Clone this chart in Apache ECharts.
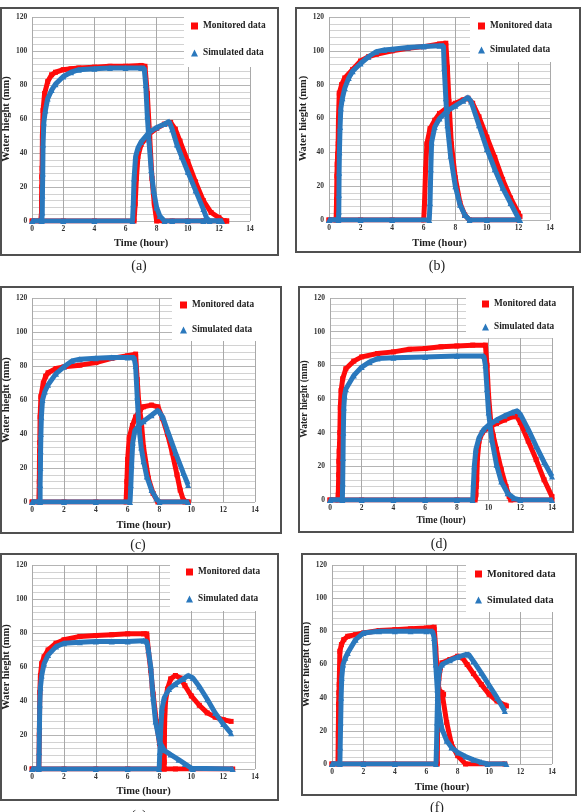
<!DOCTYPE html>
<html>
<head>
<meta charset="utf-8">
<script src="https://cdn.jsdelivr.net/npm/echarts@6/dist/echarts.min.js"></script>
<style>
  html, body { margin: 0; padding: 0; background: #fff; }
  #chart { width: 581px; height: 812px; }
</style>
</head>
<body>
<div id="chart"></div>
<script>
// data, points are [time (hour), water height (mm)]
// panel (a)
const aMon1 = [[0,0],[0.55,0],[0.6,5],[0.6,13],[0.62,20],[0.62,26],[0.64,31],[0.66,50],[0.7,65],[0.8,75],[1.0,82],[1.25,86],[1.5,87.5],[2,89],[2.5,89.5],[3,90],[4,90.5],[5,91],[6,91],[7,91.5],[7.25,91],[7.4,75],[7.55,50],[7.7,25],[7.85,10],[8.0,0],[9,0],[10,0],[11,0],[12,0],[12.5,0]];
const aMon2 = [[0,0],[2,0],[4,0],[6.55,0],[6.62,10],[6.7,25],[6.8,38],[7.0,45],[7.5,51],[8,54.5],[8.5,57],[8.9,58],[9.2,54],[9.5,47],[10,35],[10.5,23],[11,12],[11.5,5],[12,2],[12.3,0],[12.5,0]];
const aSim1 = [[0,0],[0.62,0],[0.65,5],[0.66,15],[0.68,28],[0.7,45],[0.75,58],[0.85,65],[1.0,72],[1.25,77],[1.5,80.5],[2,85],[2.5,87.5],[3,89],[4,89.5],[5,90],[6,90],[7,90],[7.2,90],[7.3,80],[7.4,62],[7.5,48],[7.65,30],[7.8,18],[8.0,8],[8.2,3],[8.5,0],[9,0],[10,0],[11,0],[12,0],[12.2,0]];
const aSim2 = [[0,0],[2,0],[4,0],[6.45,0],[6.5,10],[6.55,25],[6.65,38],[6.8,43],[7,46.5],[7.5,52],[8,55],[8.5,57],[8.8,58.5],[9.0,54],[9.3,45],[9.6,38],[10,29],[10.5,18],[11,7],[11.2,2],[11.4,0],[12.2,0]];
// panel (b)
const bMon1 = [[0,0],[0.45,0],[0.48,12],[0.5,26],[0.52,33],[0.55,39],[0.58,45],[0.6,60],[0.65,75],[0.8,80],[1.0,84],[1.5,89],[2,94],[2.5,96.5],[3,98],[4,100],[5,101.5],[6,102.5],[7,104],[7.4,104.5],[7.5,90],[7.6,70],[7.75,45],[8,25],[8.3,10],[8.6,3],[8.9,0],[10,0],[12,0]];
const bMon2 = [[0,0],[2,0],[4,0],[6.0,0],[6.05,10],[6.12,30],[6.2,45],[6.4,54],[6.7,59],[7,63],[7.5,66.5],[8,69],[8.5,71],[8.8,72],[9.1,69],[9.5,61],[10,49],[10.5,37],[11,24],[11.5,13],[12,4],[12.1,2]];
const bSim1 = [[0,0],[0.6,0],[0.62,5],[0.63,15],[0.64,28],[0.66,40],[0.7,55],[0.75,66],[0.85,72],[1.0,78],[1.25,84],[1.5,88],[2,92.5],[2.5,96.5],[3,99.5],[3.5,100.5],[4,101],[5,102],[6,102.5],[7,103],[7.25,103],[7.3,90],[7.4,72],[7.5,56],[7.7,38],[8,20],[8.3,9],[8.6,3],[8.9,0],[10,0],[12.1,0]];
const bSim2 = [[0,0],[2,0],[4,0],[6.35,0],[6.4,10],[6.45,30],[6.5,46],[6.7,55],[7,60],[7.5,64.5],[8,67.5],[8.5,70.5],[8.8,72.5],[9.0,70],[9.5,56],[10,42],[10.5,30],[11,19],[11.5,10],[12,1],[12.1,0]];
// panel (c)
const cMon1 = [[0,0],[0.42,0],[0.45,12],[0.46,25],[0.47,30],[0.48,35],[0.5,50],[0.55,62],[0.7,70],[0.85,74],[1.0,76],[1.5,78.5],[2,79.5],[3,80.5],[4,82],[5,84.5],[6,86],[6.5,87],[6.6,72],[6.7,58],[6.85,48],[7.0,32],[7.3,14],[7.6,5],[7.9,0],[9.8,0]];
const cMon2 = [[0,0],[2,0],[4,0],[5.9,0],[5.95,12],[6.0,25],[6.1,38],[6.3,45],[6.5,50],[6.8,54.5],[7,56],[7.5,57],[7.9,56],[8.2,49],[8.5,40],[8.8,29],[9.1,16],[9.3,7],[9.5,1],[9.6,0],[9.8,0]];
const cSim1 = [[0,0],[0.5,0],[0.5,10],[0.52,20],[0.53,30],[0.55,40],[0.58,50],[0.65,60],[0.8,65],[1.0,69],[1.5,75.5],[2,79.5],[2.5,83],[3,84],[4,84.5],[5,85],[6,85],[6.4,85],[6.5,80],[6.6,62],[6.7,45],[6.85,32],[7.0,24],[7.2,15],[7.5,7],[7.8,2],[8.0,0],[9.8,0]];
const cSim2 = [[0,0],[2,0],[4,0],[6.15,0],[6.2,10],[6.25,22],[6.32,35],[6.45,42],[6.7,45],[7,47.5],[7.5,51],[7.9,54],[8.2,50],[8.5,42],[9,29],[9.5,17],[9.8,10]];
// panel (d)
const dMon1 = [[0,0],[0.5,0],[0.52,3],[0.55,15],[0.56,23],[0.58,29],[0.6,33],[0.62,40],[0.65,55],[0.7,65],[0.8,72],[1.0,78],[1.5,82.5],[2,85],[3,87],[4,88],[5,89.5],[6,90],[7,91],[8,91.5],[9,92],[9.8,92],[9.9,80],[10.0,62],[10.15,45],[10.3,38],[10.5,30],[10.8,18],[11.1,8],[11.3,2],[11.4,0],[12,0],[14,0]];
const dMon2 = [[0,0],[2,0],[4,0],[6,0],[8,0],[9.15,0],[9.2,3],[9.22,8],[9.25,12],[9.3,25],[9.4,35],[9.6,40],[10,43],[10.5,45.5],[11,47.5],[11.5,49.5],[11.75,50],[12,46],[12.5,35],[13,24],[13.5,12],[14,2]];
const dSim1 = [[0,0],[0.78,0],[0.8,10],[0.82,25],[0.84,40],[0.87,55],[0.92,62],[1.0,66],[1.5,74],[2,79],[2.5,82],[3,84],[4,84.5],[6,85],[8,85.5],[9.7,85.5],[9.8,80],[9.9,66],[10.0,52],[10.2,36],[10.5,21],[10.8,11],[11.2,4],[11.6,1],[12,0],[14,0]];
const dSim2 = [[0,0],[2,0],[4,0],[6,0],[8,0],[9.0,0],[9.05,10],[9.1,20],[9.2,30],[9.4,37],[9.7,42],[10,44.5],[10.5,47.5],[11,50],[11.5,52],[11.8,53],[12,51],[12.5,42],[13,32],[13.5,22.5],[14,14]];
// panel (e)
const eMon1 = [[0,0],[0.42,0],[0.45,20],[0.48,45],[0.52,55],[0.6,62],[0.75,66],[1.0,70],[1.5,74],[2,76],[3,78],[4,78.5],[5,79],[6,79.5],[7,79.5],[7.2,79.5],[7.3,70],[7.45,58],[7.55,48],[7.6,44],[7.8,28],[8.0,15],[8.2,5],[8.3,0],[9,0],[12.6,0]];
const eMon2 = [[0,0],[2,0],[4,0],[6,0],[8.28,0],[8.3,4],[8.32,27],[8.38,40],[8.5,47],[8.7,53],[9.0,55],[9.3,53.5],[9.6,49],[10,43],[10.5,37.5],[11,33],[11.5,30.5],[12,29],[12.5,28]];
const eSim1 = [[0,0],[0.42,0],[0.44,10],[0.46,25],[0.48,38],[0.52,48],[0.6,55],[0.75,62],[1.0,67],[1.5,72],[2,74],[3,74.5],[4,75],[5,75],[6,75],[7,75.5],[7.2,75],[7.3,70],[7.45,60],[7.6,42],[7.75,28],[8.0,16],[8.3,11],[8.7,8.5],[9.2,5.5],[9.6,3],[10,0.5],[10.1,0],[12.6,0]];
const eSim2 = [[0,0],[2,0],[4,0],[6,0],[7.98,0],[8.02,10],[8.07,22],[8.15,35],[8.3,42],[8.6,47],[9,50],[9.5,53],[9.8,55],[10.1,53.5],[10.5,48.5],[11,41],[11.5,33],[12,26.5],[12.5,21]];
// panel (f)
const fMon1 = [[0,0],[0.38,0],[0.4,18],[0.42,36],[0.44,43],[0.46,48],[0.5,68],[0.6,72],[0.75,75],[1.0,77],[1.5,78],[2,79],[3,80.5],[4,81],[5,81.5],[6,82],[6.5,82.5],[6.6,70],[6.7,55],[6.8,45],[7.0,43],[7.1,42],[7.3,25],[7.6,12],[8,5],[8.5,0],[11,0]];
const fMon2 = [[0,0],[2,0],[4,0],[6.7,0],[6.72,22],[6.75,40],[6.8,52],[6.9,58],[7,61],[7.5,63],[8,65],[8.3,64],[8.6,60],[9,54.5],[9.5,48],[10,42],[10.5,38],[11,35.5],[11.1,35]];
const fSim1 = [[0,0],[0.5,0],[0.52,10],[0.55,25],[0.58,40],[0.62,52],[0.7,60],[0.85,64],[1.0,67],[1.5,75],[2,79],[3,80],[4,80],[5,80],[6,80],[6.4,80],[6.5,76],[6.6,60],[6.7,45],[6.8,32],[7,21],[7.3,14],[7.6,10],[8,7],[8.5,4.5],[9,2.5],[9.5,1],[9.9,0],[11.1,0]];
const fSim2 = [[0,0],[2,0],[4,0],[6.62,0],[6.65,10],[6.68,25],[6.72,40],[6.78,52],[6.85,57],[7,60],[7.5,62.5],[8,64.5],[8.5,66],[8.7,66],[9,62],[9.5,55],[10,47.5],[10.5,40],[11,32]];

const captions = ['(a)', '(b)', '(c)', '(d)', '(e)', '(f)'];
const monName = 'Monitored data';
const simName = 'Simulated data';
const xName = 'Time (hour)';
const yName = 'Water hieght (mm)';
const xMin = 0, xMax = 14, xStep = 2;
const yMin = 0, yMax = 120, yStep = 20;

const monitored = [[aMon1, aMon2], [bMon1, bMon2], [cMon1, cMon2], [dMon1, dMon2], [eMon1, eMon2], [fMon1, fMon2]];
const simulated = [[aSim1, aSim2], [bSim1, bSim2], [cSim1, cSim2], [dSim1, dSim2], [eSim1, eSim2], [fSim1, fSim2]];

// page layout of the six panels (pixels)
const layout = [
  { grid: [26, 17, 224, 204],  frame: [1, 8, 277, 247],   cover: [184, 14, 92, 53],  legend: [191, 20, 15, 9.4], cap: [139, 266], xGap: 17, yGap: 10, nameSize: 10.5 },
  { grid: [329, 17, 221, 203], frame: [296, 8, 284, 244], cover: [470, 14, 108, 48], legend: [478, 20, 12, 9.3], cap: [437, 266], xGap: 18, yGap: 16, nameSize: 10.5 },
  { grid: [32, 298, 223, 204], frame: [1, 287, 280, 246], cover: [172, 295, 107, 46], legend: [180, 299, 13, 9.3], cap: [138, 545], xGap: 18, yGap: 17, nameSize: 10.5 },
  { grid: [330, 298, 222, 202], frame: [299, 287, 274, 245], cover: [466, 295, 105, 43], legend: [482, 298, 11, 9.3], cap: [439, 544], xGap: 16, yGap: 15, nameSize: 9.5 },
  { grid: [32, 565, 223, 204], frame: [1, 554, 277, 246], cover: [170, 562, 106, 49], legend: [186, 566, 15, 9.3], cap: [139, 816], xGap: 17, yGap: 17, nameSize: 10.5 },
  { grid: [332, 565, 220, 199], frame: [302, 554, 274, 241], cover: [466, 562, 108, 50], legend: [475, 568, 14, 10.3], cap: [437, 808], xGap: 18, yGap: 19, nameSize: 10.5 }
];

const RED = '#ff0a0a';
const BLUE = '#2a78bd';
const SERIF = 'Liberation Serif';

const chart = echarts.init(document.getElementById('chart'));

const grids = [], xAxes = [], yAxes = [], series = [], legends = [], graphics = [];

layout.forEach((p, i) => {
  grids.push({ left: p.grid[0], top: p.grid[1], width: p.grid[2], height: p.grid[3], containLabel: false });

  xAxes.push({
    type: 'value', gridIndex: i, min: xMin, max: xMax, interval: xStep,
    name: xName, nameLocation: 'middle', nameGap: p.xGap,
    nameTextStyle: { fontFamily: SERIF, fontWeight: 'bold', fontSize: p.nameSize, color: '#222' },
    axisLine: { show: false }, axisTick: { show: false },
    axisLabel: { fontFamily: SERIF, fontWeight: 'bold', fontSize: 7.5, color: '#333', margin: 4 },
    splitLine: { show: true, lineStyle: { color: '#a9a9a9', width: 1 } }
  });

  yAxes.push({
    type: 'value', gridIndex: i, min: yMin, max: yMax, interval: yStep,
    name: yName, nameLocation: 'middle', nameGap: p.yGap, nameRotate: 90,
    nameTextStyle: { fontFamily: SERIF, fontWeight: 'bold', fontSize: p.nameSize, color: '#222' },
    axisLine: { show: false }, axisTick: { show: false },
    axisLabel: { fontFamily: SERIF, fontWeight: 'bold', fontSize: 7.5, color: '#333', margin: 5 },
    splitLine: { show: true, lineStyle: { color: '#b4b4b4', width: 1 } },
    minorTick: { show: false, splitNumber: 5 },
    minorSplitLine: { show: true, lineStyle: { color: '#d2d2d2', width: 1 } }
  });

  monitored[i].forEach(d => series.push({
    type: 'line', name: monName, xAxisIndex: i, yAxisIndex: i, data: d,
    symbol: 'rect', symbolSize: 5, showSymbol: true,
    lineStyle: { color: RED, width: 5 }, itemStyle: { color: RED },
    z: 2, silent: true
  }));
  simulated[i].forEach(d => series.push({
    type: 'line', name: simName, xAxisIndex: i, yAxisIndex: i, data: d,
    symbol: 'triangle', symbolSize: 6, showSymbol: true,
    lineStyle: { color: BLUE, width: 5 }, itemStyle: { color: BLUE },
    z: 3, silent: true
  }));

  legends.push({
    left: p.legend[0], top: p.legend[1], orient: 'vertical', itemGap: p.legend[2],
    itemWidth: 7, itemHeight: 7, padding: 0, selectedMode: false, z: 10,
    data: [{ name: monName, icon: 'rect' }, { name: simName, icon: 'triangle' }],
    textStyle: { fontFamily: SERIF, fontWeight: 'bold', fontSize: p.legend[3], color: '#222', lineHeight: 12 }
  });

  // white box behind the legend, hides the gridlines there
  graphics.push({
    type: 'rect', z: 5, silent: true,
    shape: { x: p.cover[0], y: p.cover[1], width: p.cover[2], height: p.cover[3] },
    style: { fill: '#fff' }
  });
  // panel frame
  graphics.push({
    type: 'rect', z: 5, silent: true,
    shape: { x: p.frame[0], y: p.frame[1], width: p.frame[2], height: p.frame[3] },
    style: { fill: null, stroke: '#505050', lineWidth: 2 }
  });
  graphics.push({
    type: 'text', z: 5, silent: true, x: p.cap[0], y: p.cap[1],
    style: { text: captions[i], fontFamily: SERIF, fontSize: 14, fill: '#222', align: 'center', verticalAlign: 'middle' }
  });
});

chart.setOption({
  animation: false,
  backgroundColor: '#fff',
  grid: grids,
  xAxis: xAxes,
  yAxis: yAxes,
  legend: legends,
  series: series,
  graphic: { elements: graphics }
});
</script>
</body>
</html>
